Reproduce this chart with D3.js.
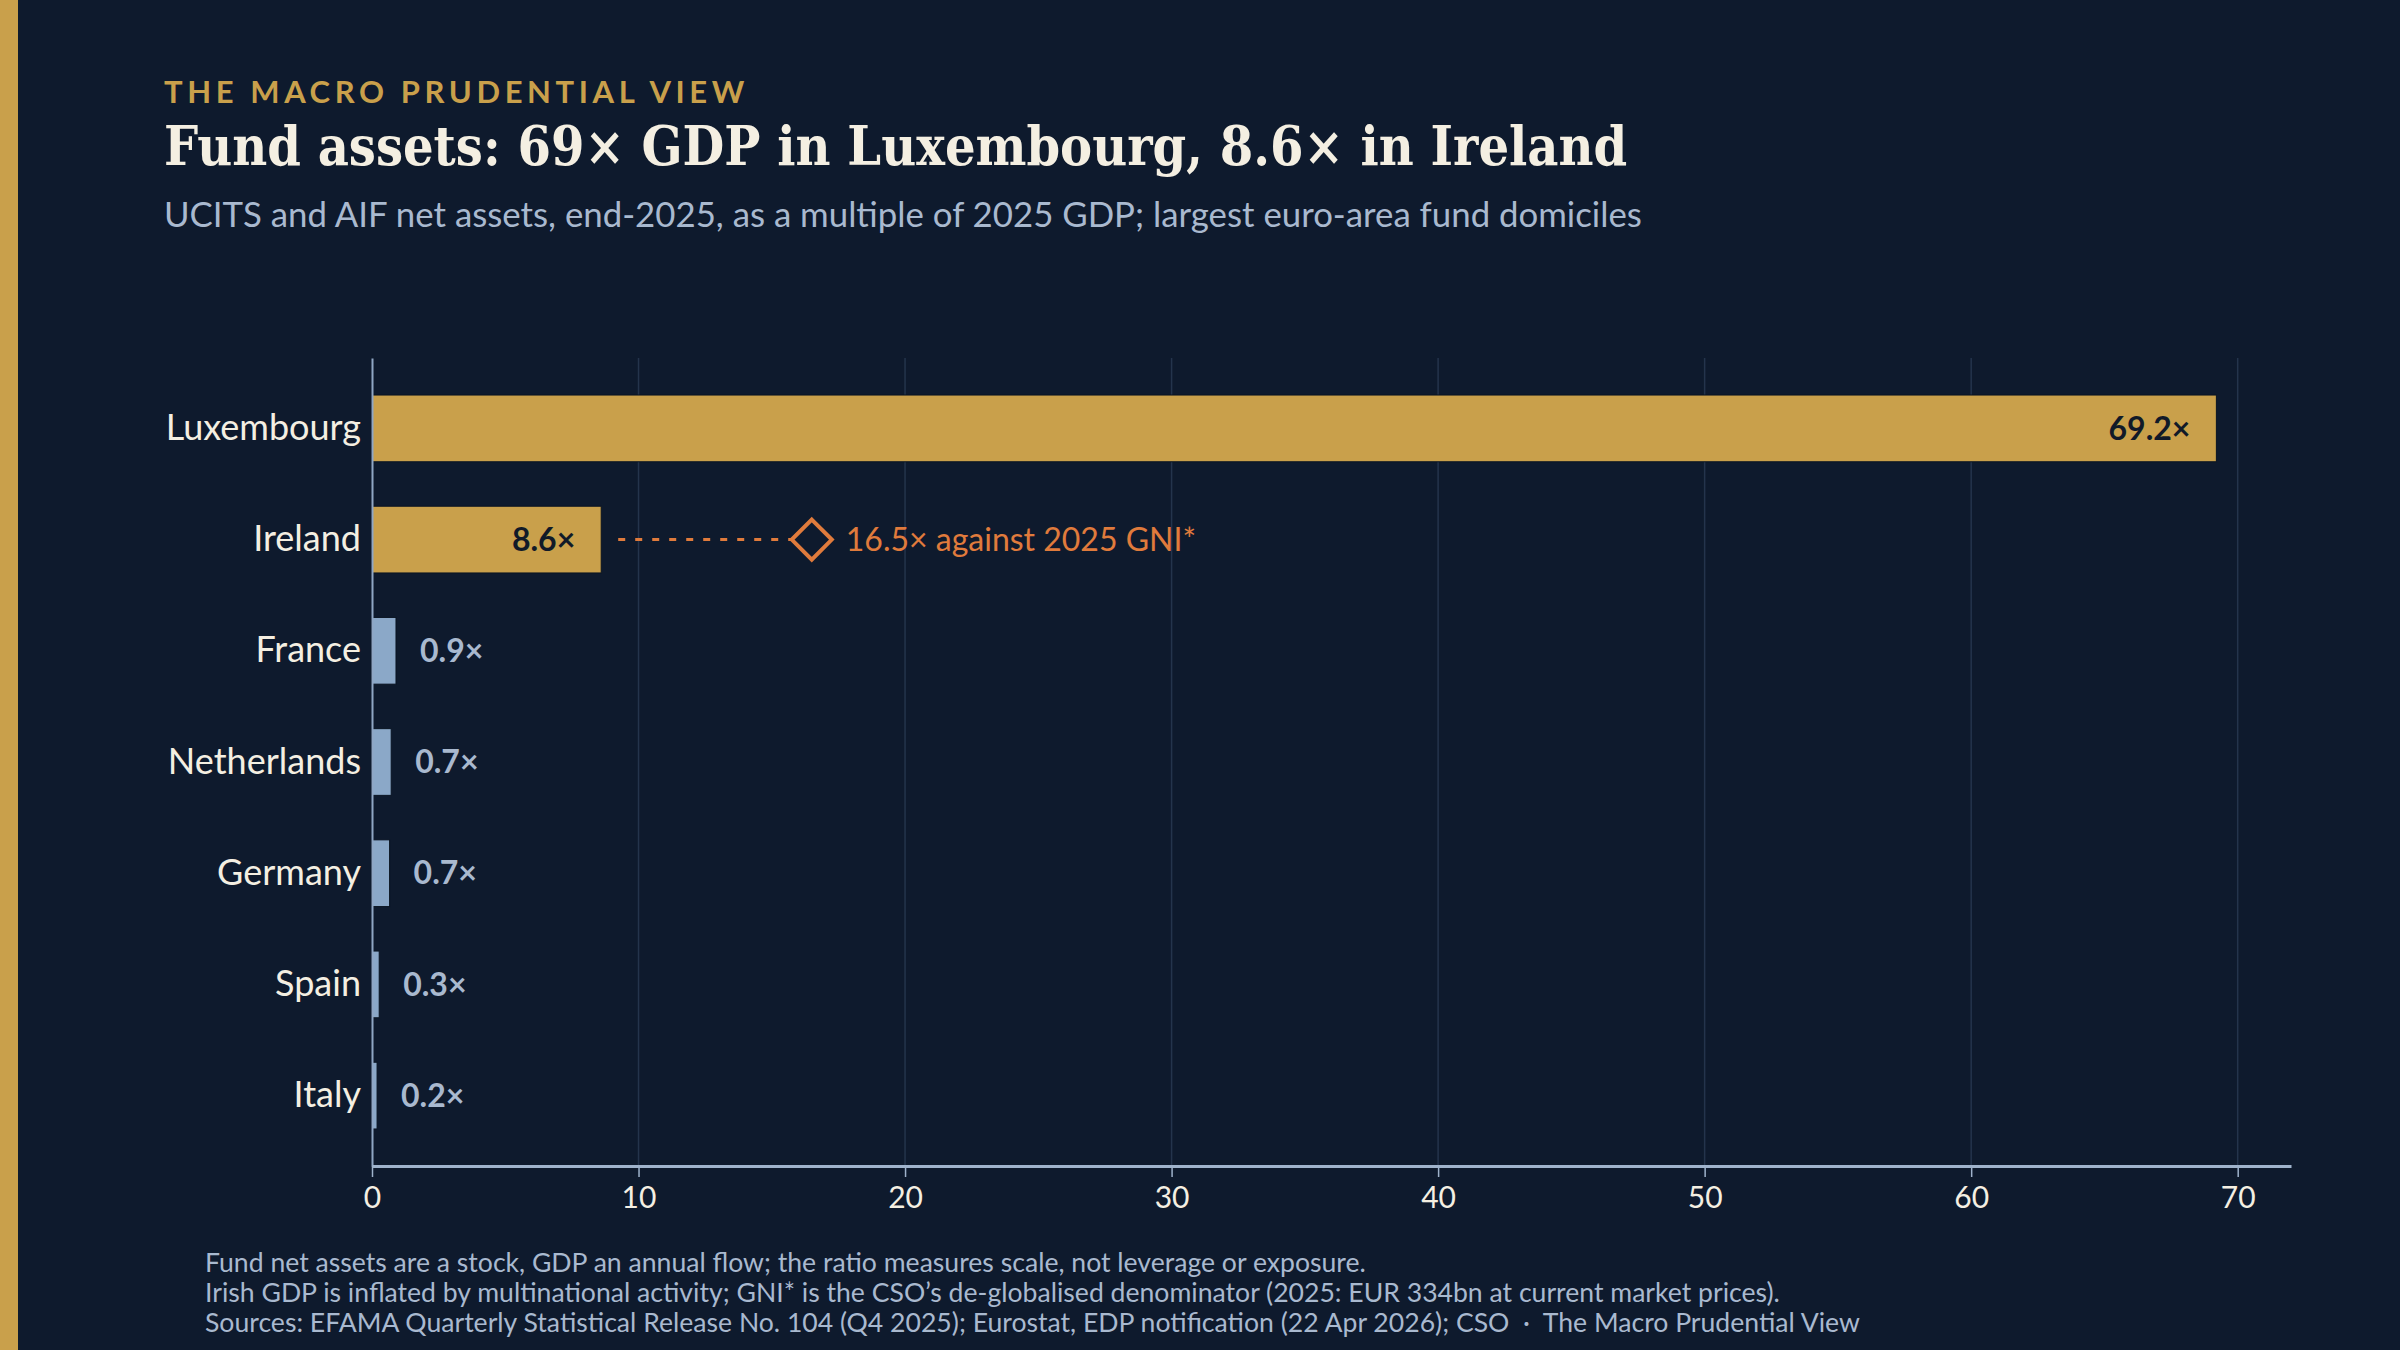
<!DOCTYPE html>
<html>
<head>
<meta charset="utf-8">
<script src="https://d3js.org/d3.v7.min.js"></script>
<style>
  html, body { margin: 0; padding: 0; background: #0e1a2d; }
  svg { display: block; }
</style>
</head>
<body>
<svg id="chart"></svg>
<script>
// data
const countries = ['Luxembourg', 'Ireland', 'France', 'Netherlands', 'Germany', 'Spain', 'Italy'];
const ratioGDP = [69.2, 8.6, 0.9, 0.72, 0.66, 0.27, 0.19];
const highlighted = ['Luxembourg', 'Ireland'];
const irelandGNI = 16.5;
const xTicks = [0, 10, 20, 30, 40, 50, 60, 70];

const footnotes = [
  'Fund net assets are a stock, GDP an annual flow; the ratio measures scale, not leverage or exposure.',
  'Irish GDP is inflated by multinational activity; GNI* is the CSO\u2019s de-globalised denominator (2025: EUR 334bn at current market prices).',
  'Sources: EFAMA Quarterly Statistical Release No. 104 (Q4 2025); Eurostat, EDP notification (22 Apr 2026); CSO  \u00b7  The Macro Prudential View'
];

const data = countries.map((c, i) => ({ name: c, value: ratioGDP[i] }));

const width = 2400, height = 1350;
const bg = '#0e1a2d', gold = '#c9a04b', steel = '#8ba8c8', orange = '#e07b3c';
const cream = '#f4efe2', muted = '#a9b9cf';
const sans = 'Lato, "Open Sans", sans-serif';

const svg = d3.select('#chart')
    .attr('width', width)
    .attr('height', height)
    .style('background', bg);

svg.append('rect')
    .attr('x', 0).attr('y', 0)
    .attr('width', 18).attr('height', height)
    .attr('fill', gold);

// header
svg.append('text')
    .attr('x', 164).attr('y', 103)
    .attr('fill', gold)
    .style('font-family', sans)
    .style('font-weight', 700)
    .style('font-size', '31px')
    .style('letter-spacing', '4.6px')
    .text('THE MACRO PRUDENTIAL VIEW');

svg.append('text')
    .attr('x', 164).attr('y', 165)
    .attr('fill', cream)
    .style('font-family', '"DejaVu Serif Condensed", "DejaVu Serif", "Liberation Serif", serif')
    .style('font-weight', 700)
    .style('font-size', '53.5px')
    .text('Fund assets: 69\u00d7 GDP in Luxembourg, 8.6\u00d7 in Ireland');

svg.append('text')
    .attr('x', 164).attr('y', 227)
    .attr('fill', muted)
    .style('font-family', sans)
    .style('font-size', '34.8px')
    .text('UCITS and AIF net assets, end-2025, as a multiple of 2025 GDP; largest euro-area fund domiciles');

// plot
const margin = { top: 358, left: 372 };
const plotBottom = 1166, axisRight = 2291;

const x = d3.scaleLinear()
    .domain([0, 72])
    .range([margin.left, axisRight]);

const y = d3.scaleBand()
    .domain(countries)
    .range([margin.top, plotBottom])
    .paddingInner(0.4)
    .paddingOuter(0.333);

// gridlines
svg.append('g')
    .selectAll('line')
    .data(xTicks.filter(t => t > 0))
    .join('line')
    .attr('x1', d => x(d)).attr('x2', d => x(d))
    .attr('y1', margin.top).attr('y2', plotBottom)
    .attr('stroke', '#24344c')
    .attr('stroke-width', 1.5);

// bars
svg.append('g')
    .selectAll('rect')
    .data(data)
    .join('rect')
    .attr('x', x(0))
    .attr('y', d => y(d.name))
    .attr('width', d => x(d.value) - x(0))
    .attr('height', y.bandwidth())
    .attr('fill', d => highlighted.includes(d.name) ? gold : steel)
    .attr('stroke', '#0a1422')
    .attr('stroke-width', 1);

// value labels
const fmt = d3.format('.1f');
svg.append('g')
    .selectAll('text')
    .data(data)
    .join('text')
    .attr('x', d => highlighted.includes(d.name) ? x(d.value) - 26 : x(d.value) + 24)
    .attr('y', d => y(d.name) + y.bandwidth() / 2)
    .attr('dy', '0.35em')
    .attr('text-anchor', d => highlighted.includes(d.name) ? 'end' : 'start')
    .attr('fill', d => highlighted.includes(d.name) ? '#111a28' : muted)
    .style('font-family', sans)
    .style('font-weight', 700)
    .style('font-size', '32px')
    .text(d => fmt(d.value) + '\u00d7');

// Ireland against GNI*
const yIre = y('Ireland') + y.bandwidth() / 2;
const dSize = 20;
svg.append('line')
    .attr('x1', x(8.6) + 17).attr('x2', x(irelandGNI) - dSize)
    .attr('y1', yIre).attr('y2', yIre)
    .attr('stroke', orange)
    .attr('stroke-width', 3)
    .attr('stroke-dasharray', '7,10');

svg.append('path')
    .attr('d', `M${x(irelandGNI)},${yIre - dSize} L${x(irelandGNI) + dSize},${yIre} L${x(irelandGNI)},${yIre + dSize} L${x(irelandGNI) - dSize},${yIre} Z`)
    .attr('fill', 'none')
    .attr('stroke', orange)
    .attr('stroke-width', 4);

svg.append('text')
    .attr('x', x(irelandGNI) + dSize + 14)
    .attr('y', yIre)
    .attr('dy', '0.35em')
    .attr('fill', orange)
    .style('font-family', sans)
    .style('font-size', '32px')
    .text(fmt(irelandGNI) + '\u00d7 against 2025 GNI*');

// y axis
const yAxisG = svg.append('g')
    .attr('transform', `translate(${margin.left},0)`)
    .call(d3.axisLeft(y).tickSize(0).tickPadding(11));
yAxisG.select('.domain')
    .attr('stroke', '#8fa6c4')
    .attr('stroke-width', 2);
yAxisG.selectAll('text')
    .attr('fill', cream)
    .style('font-family', sans)
    .style('font-size', '36px');

// x axis
const xAxisG = svg.append('g')
    .attr('transform', `translate(0,${plotBottom})`)
    .call(d3.axisBottom(x).tickValues(xTicks).tickSize(11).tickPadding(10).tickSizeOuter(0));
xAxisG.select('.domain')
    .attr('stroke', '#9fb3cc')
    .attr('stroke-width', 3);
xAxisG.selectAll('.tick line')
    .attr('stroke', '#9fb3cc')
    .attr('stroke-width', 1.5);
xAxisG.selectAll('text')
    .attr('fill', cream)
    .style('font-family', sans)
    .style('font-size', '30px');

// footnotes
svg.append('g')
    .selectAll('text')
    .data(footnotes)
    .join('text')
    .attr('x', 205)
    .attr('y', (d, i) => 1271.5 + i * 30)
    .attr('fill', muted)
    .style('font-family', sans)
    .style('font-size', '26.6px')
    .style('white-space', 'pre')
    .text(d => d);
</script>
</body>
</html>
